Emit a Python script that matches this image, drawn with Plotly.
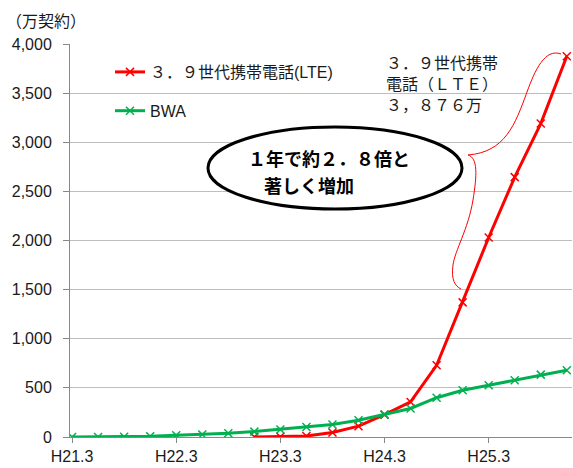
import plotly.graph_objects as go

categories = ["H21.3", "H21.6", "H21.9", "H21.12",
              "H22.3", "H22.6", "H22.9", "H22.12",
              "H23.3", "H23.6", "H23.9", "H23.12",
              "H24.3", "H24.6", "H24.9", "H24.12",
              "H25.3", "H25.6", "H25.9", "H25.12"]
lte = [None, None, None, None, None, None, None,
       1, 3, 10, 45, 110, 228, 357, 730, 1370, 2030, 2645, 3190, 3876]
bwa = [0, 0.5, 2, 8, 18, 25, 38, 55, 77, 102, 127, 170, 228, 290,
       400, 476, 527, 578, 635, 680]
tick_labels = ["H21.3", "H22.3", "H23.3", "H24.3", "H25.3"]
lte_name = "３．９世代携帯電話(LTE)"
bwa_name = "BWA"

W, H = 573, 468
ML, MR, MT, MB = 70, 1, 44, 31
PW, PH = W - ML - MR, H - MT - MB


def px(x):
    return (x - ML) / PW


def py(y):
    return (H - MB - y) / PH


FONT = "Liberation Sans, Noto Sans CJK JP, sans-serif"
JFONT = "Noto Sans CJK JP, sans-serif"

fig = go.Figure()
fig.add_trace(go.Scatter(
    x=categories, y=lte, name=lte_name, mode="lines+markers",
    line=dict(color="#FF0000", width=3),
    marker=dict(symbol="x-thin", size=8, line=dict(color="#FF0000", width=1.5)),
    legendgroup="a"))
fig.add_trace(go.Scatter(
    x=categories, y=bwa, name=bwa_name, mode="lines+markers",
    line=dict(color="#00B050", width=3),
    marker=dict(symbol="x-thin", size=8, line=dict(color="#00B050", width=1.5)),
    legendgroup="b"))

# brace
path = ("M {},{} C {},{} {},{} {},{} C {},{} {},{} {},{} "
        "C {},{} {},{} {},{} C {},{} {},{} {},{} C {},{} {},{} {},{}")
pts = [(561, 54), (545, 48), (535, 70), (527, 92),
       (515, 125), (505, 152), (468, 155),
       (478, 158), (477, 175), (473, 200),
       (468, 230), (455, 250), (453, 265),
       (451, 280), (455, 286), (461, 289)]
vals = []
for (a, b) in pts:
    vals += [round(px(a), 5), round(py(b), 5)]
fig.add_shape(type="path", xref="paper", yref="paper",
              path=path.format(*vals), line=dict(color="#FF0000", width=1))

# ellipse
fig.add_shape(type="circle", xref="paper", yref="paper",
              x0=px(208), x1=px(462), y0=py(209), y1=py(127),
              line=dict(color="black", width=3), fillcolor="white")

fig.add_annotation(xref="paper", yref="paper", x=px(246), y=py(158),
                   xanchor="left", yanchor="middle", showarrow=False,
                   text="<b>１年で約２．８倍と</b>",
                   font=dict(family=JFONT, size=18, color="black"))
fig.add_annotation(xref="paper", yref="paper", x=px(262), y=py(185),
                   xanchor="left", yanchor="middle", showarrow=False,
                   text="<b>著しく増加</b>",
                   font=dict(family=JFONT, size=18, color="black"))

fig.add_annotation(xref="paper", yref="paper", x=px(384), y=py(48),
                   xanchor="left", yanchor="top", showarrow=False, align="left",
                   text="３．９世代携帯<br>電話（ＬＴＥ）<br>３，８７６万",
                   font=dict(family=JFONT, size=16, color="#1a1a1a"))

fig.add_annotation(xref="paper", yref="paper", x=px(46), y=py(20),
                   xanchor="center", yanchor="middle", showarrow=False,
                   text="（万契約）",
                   font=dict(family=JFONT, size=16, color="#1a1a1a"))

fig.update_layout(
    width=W, height=H,
    margin=dict(l=ML, r=MR, t=MT, b=MB, pad=0),
    paper_bgcolor="white", plot_bgcolor="white",
    font=dict(family=FONT, size=16, color="#1a1a1a"),
    showlegend=True,
    legend=dict(x=px(110), y=py(55), xanchor="left", yanchor="top",
                bgcolor="rgba(0,0,0,0)", traceorder="grouped",
                tracegroupgap=15, itemwidth=30,
                font=dict(family=FONT, size=16, color="#1a1a1a")),
    xaxis=dict(type="category", categoryorder="array", categoryarray=categories,
               range=[-0.08, 19.2], tickmode="array", tickvals=tick_labels,
               ticktext=tick_labels, showgrid=False, showline=True,
               linecolor="#888888", linewidth=1, ticks="outside", ticklen=5,
               tickcolor="#888888", zeroline=False,
               tickfont=dict(family=FONT, size=16, color="#1a1a1a")),
    yaxis=dict(range=[0, 4000], tickvals=[0, 500, 1000, 1500, 2000, 2500, 3000, 3500, 4000],
               tickformat=",d", showgrid=True, gridcolor="#BEBEBE", gridwidth=1,
               showline=True, linecolor="#888888", linewidth=1, ticks="outside",
               ticklen=6, tickcolor="#888888", zeroline=False,
               ticklabelstandoff=8,
               tickfont=dict(family=FONT, size=16, color="#1a1a1a")),
)

fig.write_html("out.html",
               config={"displayModeBar": False},
               post_script="document.body.style.margin='0';"
                           "document.body.style.padding='0';"
                           "document.body.style.overflow='hidden';")
